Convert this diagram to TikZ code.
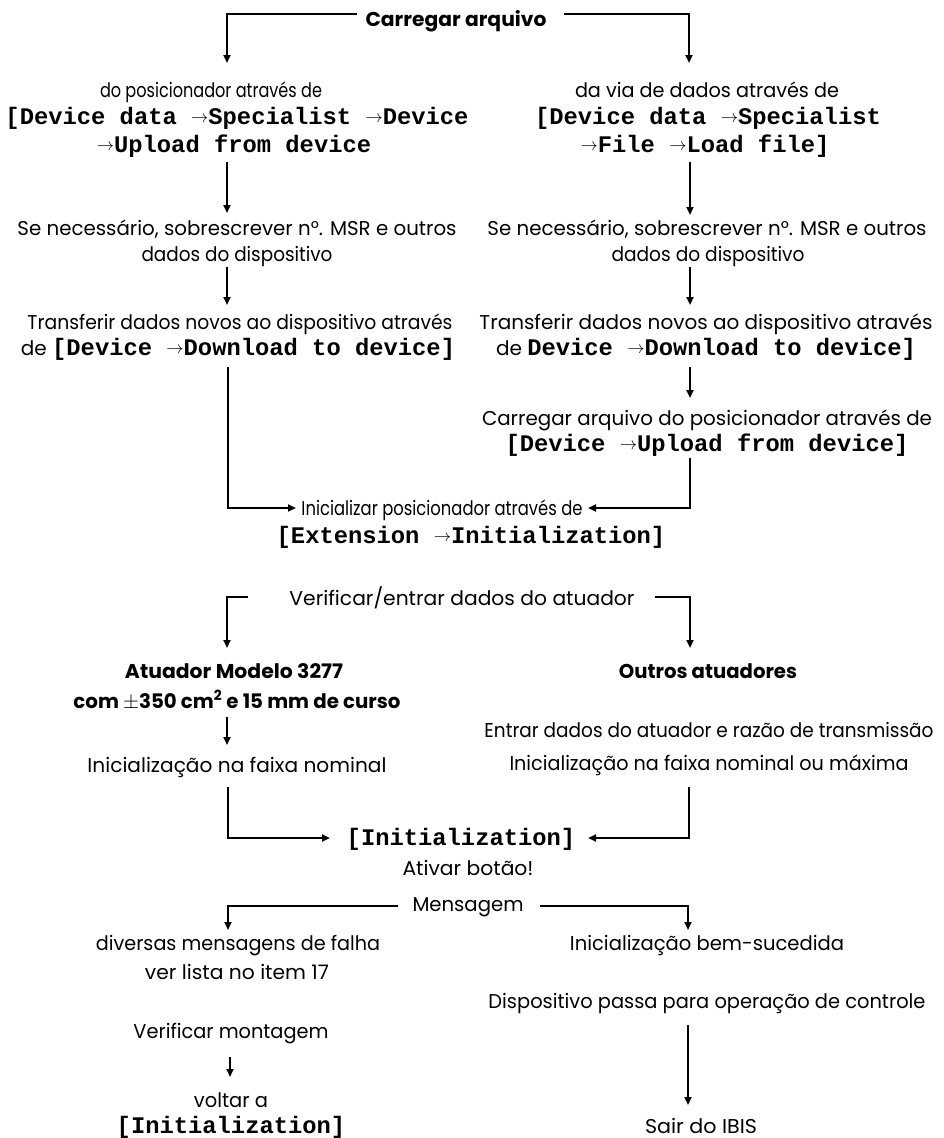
\documentclass[tikz,border=0pt]{standalone}
\usepackage{fontspec}
\usepackage{graphicx}
\setmainfont{Poppins}
\setmonofont{Liberation Mono}
\usetikzlibrary{arrows.meta}
\newcommand{\mytt}[1]{{\fontsize{23.8}{28}\selectfont\ttfamily\bfseries #1}}
\newcommand{\marr}{{\fontsize{16}{16}\selectfont\raisebox{1.5pt}{$\rightarrow$}}}
\newcommand{\fw}[2]{\resizebox{#1pt}{\height}{#2}}
\begin{document}
\begin{tikzpicture}[x=1pt,y=-1pt,
  txt/.style={inner sep=0pt,anchor=base,font=\fontsize{20}{24}\selectfont},
  txtb/.style={inner sep=0pt,anchor=base,font=\fontsize{20}{24}\selectfont\bfseries},
  txtm/.style={inner sep=0pt,anchor=base,font=\fontsize{23.8}{28}\selectfont\ttfamily\bfseries},
  ln/.style={line width=2.5pt,line join=miter,line cap=butt},
  arr/.style={ln,-{Triangle[length=8pt,width=7pt]}}]
\useasboundingbox[fill=white] (0,0) rectangle (944,1138);

% texts
\node[txtb] (carr) at (456,26) {\fw{181}{Carregar arquivo}};
\node[txt]  (L1a) at (211,97) {\fw{222}{do posicionador através de}};
\node[txtm] (L1b) at (237,124) {[Device data \marr Specialist \marr Device};
\node[txtm] (L1c) at (234,152) {\marr Upload from device};
\node[txt]  (R1a) at (707,97) {\fw{264}{da via de dados através de}};
\node[txtm] (R1b) at (708,124) {[Device data \marr Specialist};
\node[txtm] (R1c) at (705,152) {\marr File \marr Load file]};
\node[txt]  (L2a) at (237,235) {\fw{439}{Se necessário, sobrescrever n°. MSR e outros}};
\node[txt]  (L2b) at (237,261) {\fw{191}{dados do dispositivo}};
\node[txt]  (R2a) at (707,235) {\fw{439}{Se necessário, sobrescrever n°. MSR e outros}};
\node[txt]  (R2b) at (708,261) {\fw{193}{dados do dispositivo}};
\node[txt]  (L3a) at (240,329) {\fw{425}{Transferir dados novos ao dispositivo através}};
\node[txt]  (L3b) at (238,355) {de \mytt{[Device \marr Download to device]}};
\node[txt]  (R3a) at (706,329) {\fw{453}{Transferir dados novos ao dispositivo através}};
\node[txt]  (R3b) at (706,355) {de \mytt{Device \marr Download to device]}};
\node[txt]  (R4a) at (707,425) {\fw{450}{Carregar arquivo do posicionador através de}};
\node[txtm] (R4b) at (707,451) {[Device \marr Upload from device]};
\node[txt]  (I1) at (442,515) {\fw{281}{Inicializar posicionador através de}};
\node[txtm] (I2) at (471,543) {[Extension \marr Initialization]};
\node[txt]  (V) at (462,605) {\fw{345}{Verificar/entrar dados do atuador}};
\node[txtb] (A1) at (234,678) {\fw{218}{Atuador Modelo 3277}};
\node[txtb] (A2) at (237,708) {\fw{327}{com $\pm$350 cm\textsuperscript{2} e 15 mm de curso}};
\node[txt]  (A3) at (237,772) {\fw{299}{Inicialização na faixa nominal}};
\node[txtb] (O1) at (708,678) {\fw{178}{Outros atuadores}};
\node[txt]  (O2) at (709,737) {\fw{449}{Entrar dados do atuador e razão de transmissão}};
\node[txt]  (O3) at (709,770) {\fw{399}{Inicialização na faixa nominal ou máxima}};
\node[txtm] (In1) at (461,845) {[Initialization]};
\node[txt]  (In2) at (468,875) {\fw{131}{Ativar botão!}};
\node[txt]  (M) at (468,911) {\fw{111}{Mensagem}};
\node[txt]  (F1) at (238,950) {\fw{284}{diversas mensagens de falha}};
\node[txt]  (F2) at (237,979) {\fw{184}{ver lista no item 17}};
\node[txt]  (S1) at (707,950) {\fw{274}{Inicialização bem-sucedida}};
\node[txt]  (S2) at (707,1008) {\fw{437}{Dispositivo passa para operação de controle}};
\node[txt]  (F3) at (231,1038) {\fw{195}{Verificar montagem}};
\node[txt]  (F4) at (231,1107) {\fw{74}{voltar a}};
\node[txtm] (F5) at (231,1133) {[Initialization]};
\node[txt]  (S3) at (701,1133) {\fw{112}{Sair do IBIS}};

% connector points
\coordinate (c1l) at (357,14);  \coordinate (t1l) at (227,63);
\coordinate (c1r) at (564,14);  \coordinate (t1r) at (689,63);
\coordinate (s2l) at (227,162); \coordinate (t2l) at (227,213);
\coordinate (s2r) at (690,162); \coordinate (t2r) at (690,215);
\coordinate (s3l) at (227,267); \coordinate (t3l) at (227,305);
\coordinate (s3r) at (690,267); \coordinate (t3r) at (690,305);
\coordinate (s4r) at (690,367); \coordinate (t4r) at (690,398);
\coordinate (s5l) at (228,367); \coordinate (t5l) at (296,508);
\coordinate (s5r) at (690,458); \coordinate (t5r) at (588,508);
\coordinate (c6l) at (248,597); \coordinate (t6l) at (227,648);
\coordinate (c6r) at (655,597); \coordinate (t6r) at (690,648);
\coordinate (s7l) at (227,717); \coordinate (t7l) at (227,745);
\coordinate (s8l) at (228,787); \coordinate (t8l) at (330,838);
\coordinate (s8r) at (689,787); \coordinate (t8r) at (588,838);
\coordinate (c9l) at (398,906); \coordinate (t9l) at (228,930);
\coordinate (c9r) at (540,906); \coordinate (t9r) at (688,930);
\coordinate (s10l) at (230,1057); \coordinate (t10l) at (230,1077);
\coordinate (s10r) at (688,1025); \coordinate (t10r) at (688,1105);

% connectors
\draw[arr] (c1l) -| (t1l);
\draw[arr] (c1r) -| (t1r);
\draw[arr] (s2l) -- (t2l);
\draw[arr] (s2r) -- (t2r);
\draw[arr] (s3l) -- (t3l);
\draw[arr] (s3r) -- (t3r);
\draw[arr] (s4r) -- (t4r);
\draw[arr] (s5l) |- (t5l);
\draw[arr] (s5r) |- (t5r);
\draw[arr] (c6l) -| (t6l);
\draw[arr] (c6r) -| (t6r);
\draw[arr] (s7l) -- (t7l);
\draw[arr] (s8l) |- (t8l);
\draw[arr] (s8r) |- (t8r);
\draw[arr] (c9l) -| (t9l);
\draw[arr] (c9r) -| (t9r);
\draw[arr] (s10l) -- (t10l);
\draw[arr] (s10r) -- (t10r);
\end{tikzpicture}
\end{document}
